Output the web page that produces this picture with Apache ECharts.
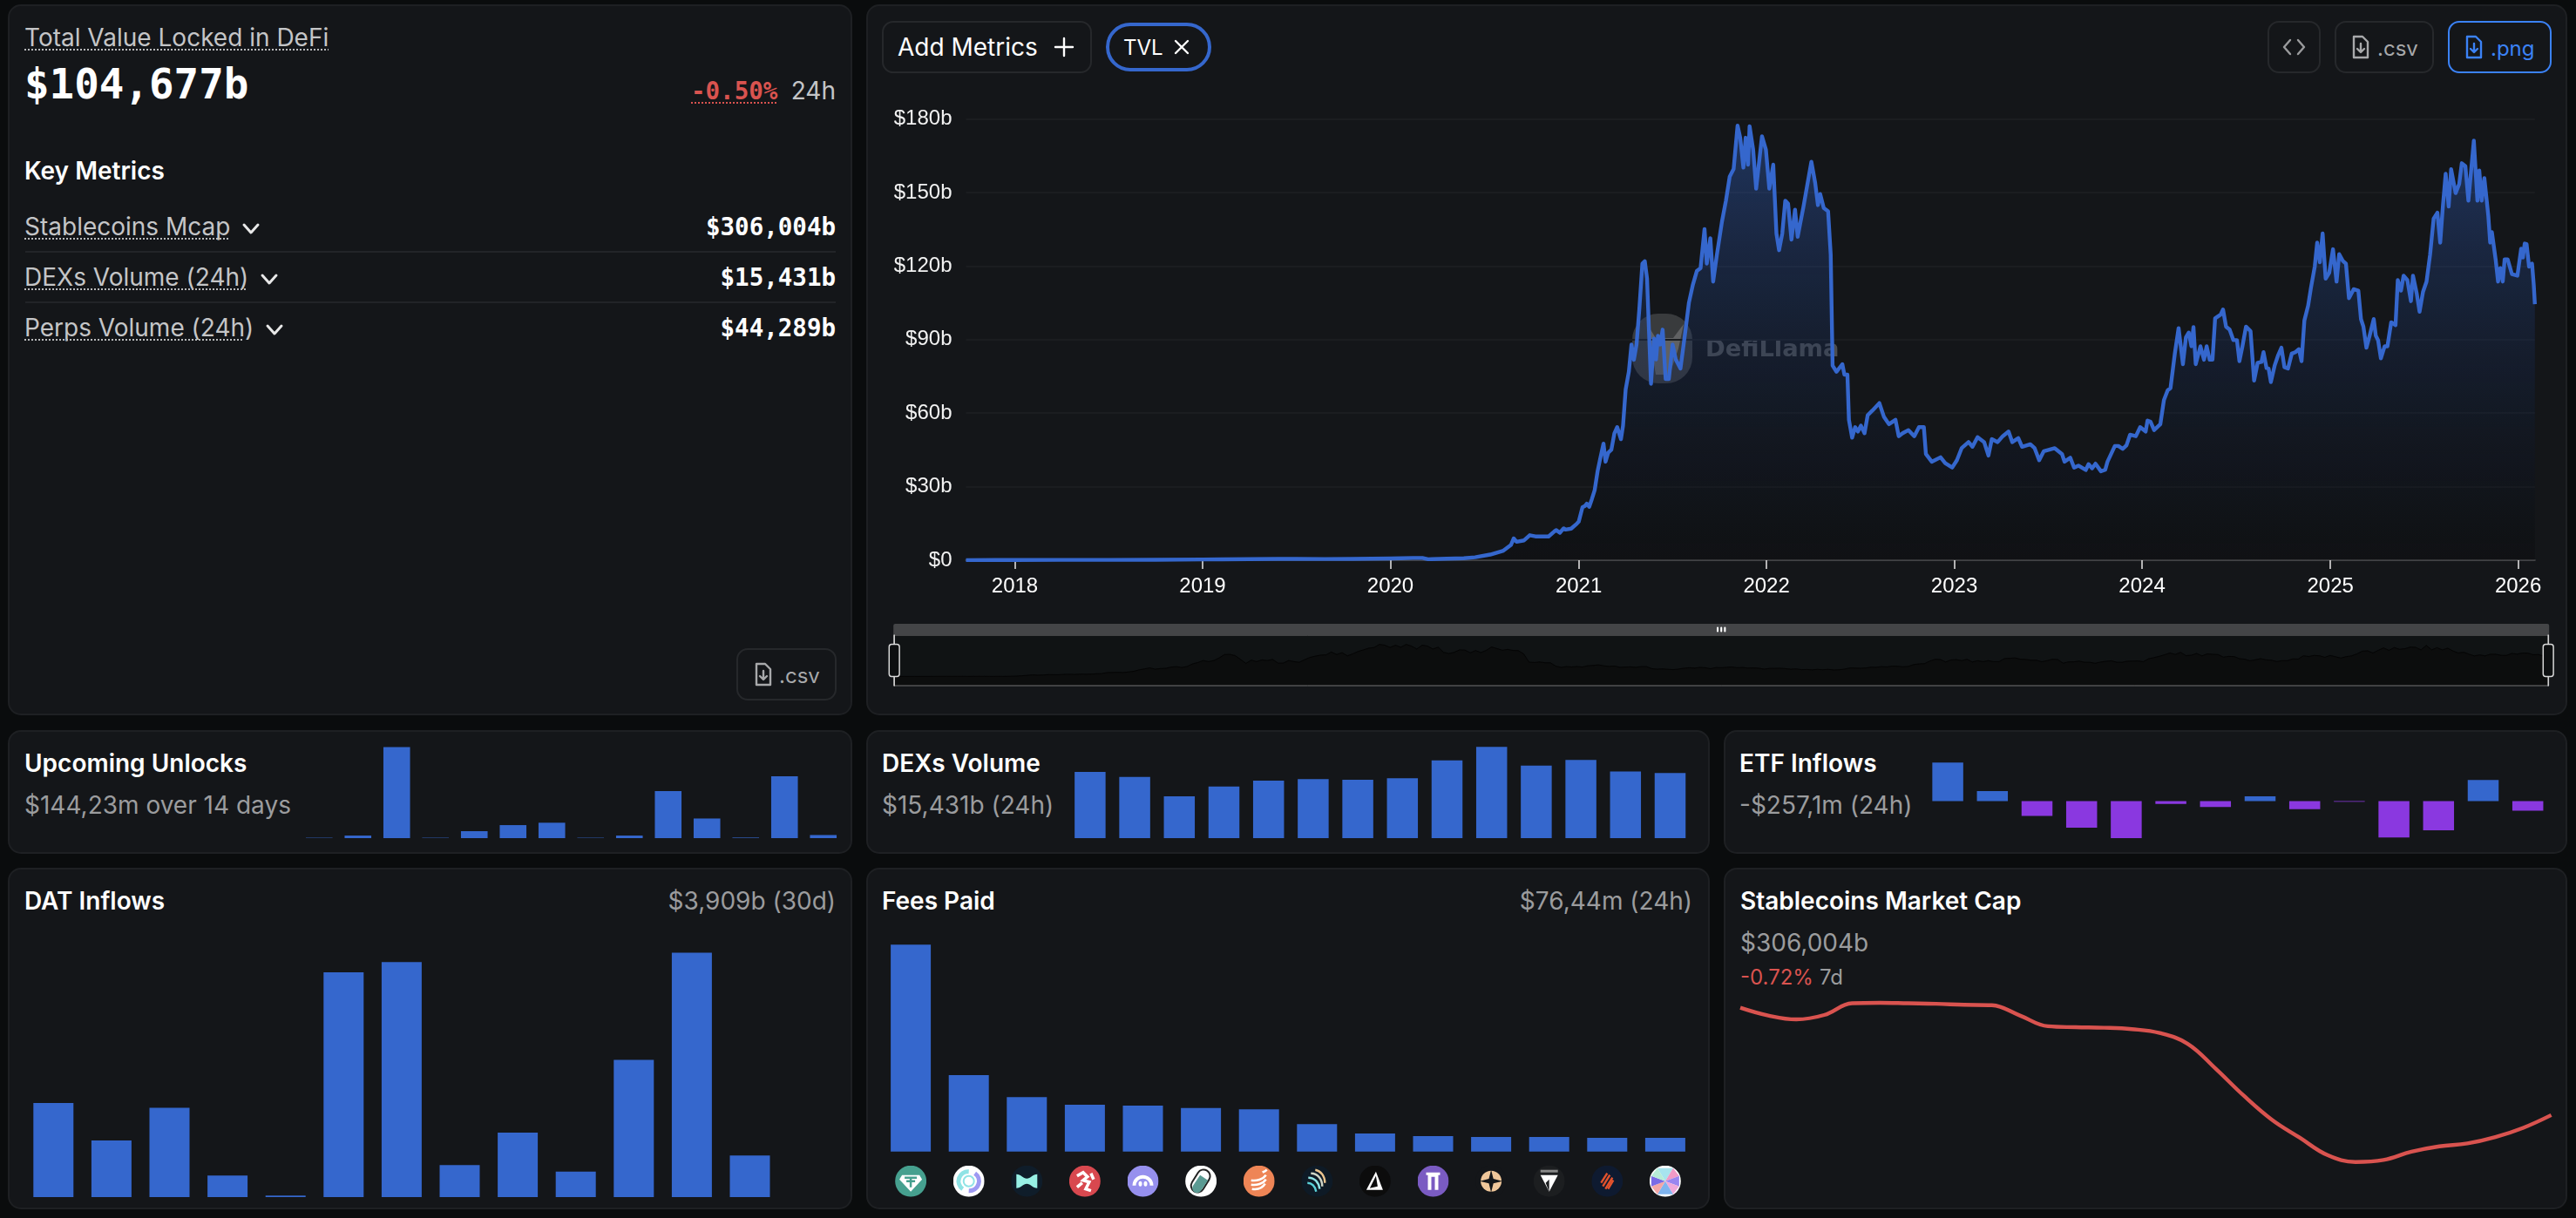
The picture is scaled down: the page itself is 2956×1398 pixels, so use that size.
<!DOCTYPE html>
<html><head><meta charset="utf-8"><title>DeFi dashboard</title>
<script src="https://cdn.jsdelivr.net/npm/echarts@6/dist/echarts.min.js"></script>
<style>
html,body{margin:0;padding:0;background:#0a0c0d;width:2956px;height:1398px;overflow:hidden}
#chrome,#chart{position:absolute;left:0;top:0;width:2956px;height:1398px}
text{font-family:Inter,"Noto Sans",sans-serif;font-size:28px;fill:#c4c5c7}
.t{fill:#fff;font-weight:600}
.m{font-family:"DejaVu Sans Mono",monospace;font-weight:700;fill:#fff;font-size:27.5px}
.g{fill:#9b9c9e}
.r{fill:#d9534f}
.p{fill:#141619;stroke:#1e2023;stroke-width:2}
.b{fill:none;stroke:#26282b;stroke-width:2}
.ic{fill:none;stroke:#c8c9cb;stroke-width:2.4;stroke-linecap:round;stroke-linejoin:round}
.ch{fill:none;stroke:#e8e8e8;stroke-width:3;stroke-linecap:round;stroke-linejoin:round}
.sep{stroke:#222428;stroke-width:2}
.u{stroke:#b9babc;stroke-width:2;stroke-dasharray:2 2}
</style></head><body>
<svg id="chrome" xmlns="http://www.w3.org/2000/svg" viewBox="0 0 2956 1398">
<rect class="p" x="10" y="6" width="967" height="814" rx="14"/>
<rect class="p" x="995" y="6" width="1950" height="814" rx="14"/>
<rect class="p" x="10" y="839" width="967" height="140" rx="14"/>
<rect class="p" x="995" y="839" width="966" height="140" rx="14"/>
<rect class="p" x="1979" y="839" width="966" height="140" rx="14"/>
<rect class="p" x="10" y="997" width="967" height="390" rx="14"/>
<rect class="p" x="995" y="997" width="966" height="390" rx="14"/>
<rect class="p" x="1979" y="997" width="966" height="390" rx="14"/>

<text x="28" y="53">Total Value Locked in DeFi</text><line class="u" x1="28" x2="377" y1="57" y2="57"/>
<text class="m" x="28" y="113" style="font-size:47.5px">$104,677b</text>
<text class="m" x="793" y="114" style="fill:#d9534f">-0.50%</text><line class="u" x1="793" x2="891" y1="118" y2="118" style="stroke:#d9534f"/>
<text x="959" y="114" text-anchor="end" style="fill:#c4c5c7">24h</text>
<text class="t" x="28" y="206">Key Metrics</text>
<text x="28" y="270">Stablecoins Mcap</text><line class="u" x1="28" x2="264" y1="274" y2="274"/>
<path class="ch" d="M280 258l8 9 8-9"/>
<text class="m" x="959" y="270" text-anchor="end">$306,004b</text>
<line class="sep" x1="29" x2="959" y1="289" y2="289"/>
<text x="28" y="328">DEXs Volume (24h)</text><line class="u" x1="28" x2="283" y1="332" y2="332"/>
<path class="ch" d="M301 316l8 9 8-9"/>
<text class="m" x="959" y="328" text-anchor="end">$15,431b</text>
<line class="sep" x1="29" x2="959" y1="347" y2="347"/>
<text x="28" y="386">Perps Volume (24h)</text><line class="u" x1="28" x2="279" y1="390" y2="390"/>
<path class="ch" d="M307 374l8 9 8-9"/>
<text class="m" x="959" y="386" text-anchor="end">$44,289b</text>

<rect class="b" x="846" y="745" width="113" height="58" rx="12"/>
<g transform="translate(866,762)"><path class="ic" style="stroke:#a8a9ab" d="M2 0h10l6 6v18H2zM10 8v9M6 14l4 4 4-4"/></g>
<text x="894" y="784" style="font-size:24px;fill:#a8a9ab">.csv</text>

<rect class="b" x="1013" y="25" width="239" height="58" rx="12"/>
<text x="1030" y="64" style="fill:#fff">Add Metrics</text>
<path class="ic" d="M1211 54h20M1221 44v20" style="stroke:#fff"/>
<rect x="1271" y="28" width="117" height="52" rx="26" fill="none" stroke="#3567cd" stroke-width="4"/>
<text x="1289" y="63" style="fill:#fff;font-size:24px">TVL</text>
<path class="ic" d="M1349 47l14 14M1363 47l-14 14" style="stroke:#fff"/>

<rect class="b" x="2603" y="25" width="59" height="58" rx="12"/>
<path class="ic" style="stroke:#9a9b9d" d="M2628 46l-7 8 7 8M2637 46l7 8-7 8"/>
<rect class="b" x="2680" y="25" width="112" height="58" rx="12"/>
<g transform="translate(2699,42)"><path class="ic" style="stroke:#a8a9ab" d="M2 0h10l6 6v18H2zM10 8v9M6 14l4 4 4-4"/></g>
<text x="2728" y="64" style="font-size:24px;fill:#a8a9ab">.csv</text>
<rect x="2810" y="25" width="117" height="58" rx="12" fill="none" stroke="#3b82f6" stroke-width="2"/>
<g transform="translate(2829,42)"><path class="ic" style="stroke:#3b82f6" d="M2 0h10l6 6v18H2zM10 8v9M6 14l4 4 4-4"/></g>
<text x="2858" y="64" style="font-size:24px;fill:#3b82f6">.png</text>

<text class="t" x="28" y="886">Upcoming Unlocks</text>
<text class="g" x="28" y="934">$144,23m over 14 days</text>
<text class="t" x="1012" y="886">DEXs Volume</text>
<text class="g" x="1012" y="934">$15,431b (24h)</text>
<text class="t" x="1996" y="886">ETF Inflows</text>
<text class="g" x="1996" y="934">-$257,1m (24h)</text>
<text class="t" x="28" y="1044">DAT Inflows</text>
<text class="g" x="959" y="1044" text-anchor="end">$3,909b (30d)</text>
<text class="t" x="1012" y="1044">Fees Paid</text>
<text class="g" x="1942" y="1044" text-anchor="end">$76,44m (24h)</text>
<text class="t" x="1997" y="1044">Stablecoins Market Cap</text>
<text class="g" x="1997" y="1092">$306,004b</text>
<text class="r" x="1997" y="1130" style="font-size:24px">-0.72%</text>
<text x="2088" y="1130" style="font-size:24px" class="g">7d</text>
</svg>
<div id="chart"></div>
<script>
// TVL in $b, as [decimal year, value]
const tvlBefore2021 = [[2017.74,0.05],[2017.9,0.08],[2018,0.1],[2018.25,0.12],[2018.5,0.15],[2018.75,0.2],[2019,0.3],[2019.1,0.35],[2019.25,0.45],[2019.4,0.55],[2019.5,0.55],[2019.65,0.5],[2019.8,0.55],[2019.9,0.6],[2020,0.7],[2020.06,0.8],[2020.12,0.95],[2020.17,0.95],[2020.2,0.4],[2020.22,0.45],[2020.3,0.6],[2020.39,0.8],[2020.45,1.2],[2020.53,2.3],[2020.6,3.9],[2020.64,6.2],[2020.655,8.9],[2020.67,7.5],[2020.71,8.1],[2020.74,10.2],[2020.77,9.7],[2020.84,9.7],[2020.87,11.7],[2020.88,12.3],[2020.9,11.2],[2020.92,13],[2020.93,12.5],[2020.96,12.9],[2020.99,14.9]];
const tvl2021 = [[2021,15.7],[2021.02,21.6],[2021.033,22.1],[2021.043,23.1],[2021.056,21.8],[2021.07,24.9],[2021.085,28.6],[2021.101,36.5],[2021.116,42],[2021.132,47.6],[2021.143,40.2],[2021.157,43.9],[2021.174,45.1],[2021.19,51.8],[2021.205,54.3],[2021.225,49.4],[2021.236,54.9],[2021.25,69.6],[2021.267,76.9],[2021.281,88],[2021.294,81.8],[2021.308,88],[2021.323,102.6],[2021.339,121],[2021.352,122],[2021.364,114.9],[2021.374,94.1],[2021.385,72],[2021.401,90.4],[2021.412,81.9],[2021.422,91.6],[2021.434,88],[2021.447,94.1],[2021.463,73.9],[2021.48,73.9],[2021.5,88],[2021.517,81.9],[2021.542,78.2],[2021.567,92.9],[2021.587,105.1],[2021.608,112.4],[2021.629,118],[2021.649,119.2],[2021.67,135.1],[2021.682,121],[2021.701,131.4],[2021.716,113.7],[2021.736,124.7],[2021.763,138.2],[2021.784,146.7],[2021.804,156.5],[2021.825,159.6],[2021.846,177.3],[2021.86,172.4],[2021.877,160.2],[2021.889,172.4],[2021.902,161.4],[2021.91,177.1],[2021.929,167.5],[2021.945,151.6],[2021.976,173],[2021.997,167.5]];
const tvl2022 = [[2022.015,151.6],[2022.036,161.4],[2022.053,133.3],[2022.067,126.5],[2022.084,133.3],[2022.1,146.7],[2022.115,145.5],[2022.133,130.8],[2022.152,143],[2022.166,132],[2022.197,144.3],[2022.239,162.6],[2022.259,154.1],[2022.274,144.9],[2022.286,149.4],[2022.305,143.7],[2022.328,142.4],[2022.342,124.7],[2022.352,79.4],[2022.373,76.9],[2022.404,80],[2022.415,75.7],[2022.431,75.7],[2022.439,57.3],[2022.456,50],[2022.472,54.3],[2022.487,52.5],[2022.503,54.9],[2022.522,51.8],[2022.539,59.2],[2022.563,61],[2022.601,64.1],[2022.625,58.6],[2022.652,55.5],[2022.687,57.3],[2022.704,50.6],[2022.725,51.8],[2022.756,53.1],[2022.787,50.6],[2022.812,54.3],[2022.838,54.3],[2022.849,43.3],[2022.88,40.2],[2022.927,42],[2022.952,39.6],[2022.989,37.8]];
const tvl2023 = [[2023.014,40.8],[2023.039,45.7],[2023.076,48.2],[2023.097,46.3],[2023.124,50.2],[2023.159,48.2],[2023.182,42.7],[2023.2,49.4],[2023.231,48.2],[2023.258,50.6],[2023.289,52.5],[2023.309,48.2],[2023.341,49.8],[2023.361,46.3],[2023.405,47.3],[2023.428,45.7],[2023.452,40.8],[2023.477,44.5],[2023.506,45.1],[2023.535,45.7],[2023.574,43.3],[2023.587,40.2],[2023.618,41.8],[2023.638,37.8],[2023.661,38.6],[2023.7,36.8],[2023.715,39.2],[2023.734,37.5],[2023.752,39.4],[2023.781,36.3],[2023.804,36.9],[2023.816,40.2],[2023.855,46.6],[2023.874,46.6],[2023.897,45.4],[2023.917,46.9],[2023.936,51.2],[2023.967,50.6],[2023.99,54.3]];
const tvl2024 = [[2024.019,52.5],[2024.029,57],[2024.045,56.5],[2024.064,53.1],[2024.097,55.5],[2024.116,65.3],[2024.136,69.3],[2024.151,70.2],[2024.174,84.3],[2024.194,94.7],[2024.203,94],[2024.217,80],[2024.233,91],[2024.248,92.9],[2024.262,87.3],[2024.273,95.1],[2024.285,80],[2024.31,87.3],[2024.329,81.8],[2024.343,87.3],[2024.359,81.8],[2024.374,81.8],[2024.388,98.7],[2024.417,100.2],[2024.43,102.3],[2024.446,95.3],[2024.465,94.1],[2024.485,89.8],[2024.504,89.8],[2024.517,81.2],[2024.533,87.3],[2024.552,95.3],[2024.576,93.5],[2024.595,73.3],[2024.614,80.6],[2024.634,80.9],[2024.645,84.9],[2024.661,78.4],[2024.672,78.2],[2024.684,72.7],[2024.704,79.4],[2024.723,83.7],[2024.74,86.7],[2024.756,78.8],[2024.775,78.2],[2024.795,84.3],[2024.814,84.9],[2024.833,86.1],[2024.847,81.2],[2024.862,97.8],[2024.882,103.9],[2024.897,111.2],[2024.917,119.8],[2024.93,129.6],[2024.944,121.6],[2024.959,133.3],[2024.975,114.9],[2024.994,117.3]];
const tvl2025 = [[2025.014,126.9],[2025.033,113.7],[2025.047,124.9],[2025.066,122.2],[2025.083,121],[2025.099,106.9],[2025.124,110.6],[2025.149,110],[2025.163,98.4],[2025.176,95.3],[2025.192,86.7],[2025.211,92.2],[2025.231,98.4],[2025.242,91.6],[2025.254,89.8],[2025.269,82.4],[2025.289,87.3],[2025.304,87.3],[2025.324,97.1],[2025.347,95.9],[2025.359,114.3],[2025.376,110],[2025.39,116.1],[2025.41,114.3],[2025.429,105.7],[2025.44,116.1],[2025.46,108.8],[2025.475,101.4],[2025.493,109.4],[2025.512,113.7],[2025.531,124.7],[2025.55,139.4],[2025.57,141.8],[2025.585,129.6],[2025.599,144.3],[2025.614,157.7],[2025.63,144.3],[2025.643,159.6],[2025.667,149.8],[2025.686,153.5],[2025.7,162],[2025.719,160.8],[2025.735,146.7],[2025.764,171.2],[2025.783,146.7],[2025.793,159],[2025.806,146.7],[2025.82,155.9],[2025.841,140.6],[2025.851,129.6],[2025.86,133.9],[2025.88,122.8],[2025.893,113.7],[2025.905,119.2],[2025.918,113.7],[2025.928,122.8],[2025.944,122.8],[2025.967,116.7],[2025.996,116.1]];
const tvl2026 = [[2026.016,127.1],[2026.025,123.5],[2026.035,129.2],[2026.045,129],[2026.058,119.8],[2026.074,121],[2026.083,112.4],[2026.089,104.5]];
const yearTicks = [2018,2019,2020,2021,2022,2023,2024,2025,2026];
const yTickStep = 30, yMax = 180;

const unlocks = [0.2,1.4,49.6,0.2,3.8,7.1,8.4,0.2,1.4,25.6,10.7,0.3,33.7,1.7];
const dexVolume = [15.7,14.5,9.9,12.2,13.6,14.0,13.8,14.2,18.4,21.6,17.2,18.5,15.8,15.4];
const etfInflows = [1028,265,-397,-709,-989,-78,-156,125,-218,-16,-974,-779,561,-257];
const datInflows = [305,184,290,70,5,729,762,104,209,83,445,793,135,0];
const feeNames = ['Tether','Circle','Hyperliquid','Lion','Arch','Pill','Stack','Waves','Delta','Gate','Star','Fragment','Stripes','Pinwheel'];
const feesPaid = [24.98,9.23,6.56,5.65,5.54,5.26,5.09,3.30,2.17,1.86,1.75,1.75,1.65,1.65];
const stablecoins = [308.20,308.04,307.96,308.05,308.29,308.30,308.29,308.28,308.26,308.25,308.04,307.82,307.80,307.79,307.76,307.68,307.46,306.95,306.40,305.91,305.54,305.18,305.04,305.08,305.25,305.36,305.42,305.55,305.74,306.00];

const BLUE='#3567cd', PURPLE='#8a38e0', RED='#d9534f';
const toMs = y => { const f=Math.floor(y), a=Date.UTC(f,0,1), b=Date.UTC(f+1,0,1); return a+(y-f)*(b-a); };
const tvl = [...tvlBefore2021,...tvl2021,...tvl2022,...tvl2023,...tvl2024,...tvl2025,...tvl2026].map(p=>[toMs(p[0]),p[1]]);
const idx = a => a.map((_,i)=>i);

const svgIcons = [
 '<circle cx="18" cy="18" r="18" fill="#46a08f"/><path d="M8 11h20l3 5-13 14L5 16z" fill="#fff"/><path d="M11 14h14M18 14v11M13 18h10" stroke="#46a08f" stroke-width="2.5" fill="none"/>',
 '<circle cx="18" cy="18" r="18" fill="#fff"/><path d="M11 27a11 11 0 0 1 7-20" stroke="#8fe3e5" stroke-width="5" fill="none"/><path d="M25 9a11 11 0 0 1-7 20" stroke="#9d99f2" stroke-width="5" fill="none"/><circle cx="18" cy="18" r="6" fill="none" stroke="#8fe3e5" stroke-width="2"/>',
 '<circle cx="18" cy="18" r="18" fill="#0f1d2a"/><path d="M6 10c5 0 8 5 12 5s7-5 12-5v16c-5 0-8-5-12-5s-7 5-12 5z" fill="#97f0e5"/>',
 '<circle cx="18" cy="18" r="18" fill="#d8484f"/><path d="M9 12l7-4 5 5-5 4 7 2-4 8 6 2M15 20l-6 5M25 9l3 7" stroke="#fff" stroke-width="3.5" fill="none"/>',
 '<circle cx="18" cy="18" r="18" fill="#9690ee"/><path d="M6 23a12 12 0 0 1 24 0h-4a8 8 0 0 0-16 0z" fill="#fff"/><ellipse cx="15" cy="21" rx="2" ry="3" fill="#fff"/><ellipse cx="21" cy="21" rx="2" ry="3" fill="#fff"/>',
 '<circle cx="18" cy="18" r="18" fill="#fff"/><rect x="10" y="4" width="15" height="28" rx="7.5" transform="rotate(32 18 18)" fill="#fff" stroke="#222" stroke-width="2"/><path d="M9 23l8-12 9 6-8 12a5 5 0 0 1-9-6z" fill="#5a9a92"/>',
 '<circle cx="18" cy="18" r="18" fill="#ee8556"/><path d="M9 17c6 1 14-1 17-6M9 22c6 1 14-1 17-6M10 27c6 1 12-1 15-6M22 8c2-1 3-1 5-3" stroke="#fff" stroke-width="2.6" fill="none"/>',
 '<circle cx="18" cy="18" r="18" fill="#0e1a26"/><path d="M16 5c6 1 11 7 11 15" stroke="#eac48f" stroke-width="2.4" fill="none"/><path d="M11 9c8 0 13 7 13 15" stroke="#cfd6c8" stroke-width="2.4" fill="none"/><path d="M8 14c7 0 12 5 13 13" stroke="#8fe3e5" stroke-width="2.4" fill="none"/><path d="M7 20c5 0 9 4 10 10" stroke="#5ad0d8" stroke-width="2.4" fill="none"/>',
 '<circle cx="18" cy="18" r="18" fill="#0c0c0c"/><path d="M19 7l8 21H8z" fill="#fff"/><path d="M19 12l2 12-9 2z" fill="#0c0c0c"/>',
 '<circle cx="18" cy="18" r="18" fill="#7a5bc2"/><path d="M10 8h16v3h-2v17h-4V13h-4v15h-4V11h-2z" fill="#fff"/>',
 '<circle cx="18" cy="18" r="18" fill="#141619"/><circle cx="18" cy="18" r="12" fill="#f0c79a"/><path d="M18 5l2.6 10.4L31 18l-10.4 2.6L18 31l-2.6-10.4L5 18l10.4-2.6z" fill="#141619"/>',
 '<circle cx="18" cy="18" r="18" fill="#1c1e20"/><rect x="8" y="5" width="20" height="3" fill="#888"/><path d="M8 11h20l-10 19z" fill="#fff"/><path d="M18 16v14l-4-10z" fill="#1c1e20"/>',
 '<circle cx="18" cy="18" r="18" fill="#0e1a30"/><path d="M13 24l8-13M16 27l8-13M11 20l7-11M19 27l6-10" stroke="#e2522c" stroke-width="2.4" fill="none"/>',
 '<circle cx="18" cy="18" r="18" fill="#fff"/><path d="M18 18L9 3h18z" fill="#a7e4ef"/><path d="M18 18L27 3l7 9z" fill="#f29ac6"/><path d="M18 18l16-6v12z" fill="#9a86f0"/><path d="M18 18l16 6-7 9z" fill="#f0a9d9"/><path d="M18 18l9 15H9z" fill="#7fb4ef"/><path d="M18 18L9 33l-7-9z" fill="#f4a6a6"/><path d="M18 18L2 24V12z" fill="#7a6be6"/><path d="M18 18L2 12l7-9z" fill="#b7ecd7"/>'
];
const iconRich = {};
svgIcons.forEach((s,i)=>{
  iconRich['i'+i] = {width:36,height:36,backgroundColor:{image:'data:image/svg+xml;charset=utf-8,'+encodeURIComponent('<svg xmlns="http://www.w3.org/2000/svg" width="72" height="72" viewBox="0 0 36 36">'+s+'</svg>')}};
});

function barGrid(l,t,w,h){return {left:l,top:t,width:w,height:h};}
const grids=[
  {left:1108.5,top:136.7,width:1800.3,height:506.3},
  barGrid(344,857.5,623,104.5),
  barGrid(1225.3,857.3,716.8,104.7),
  barGrid(2209.5,875.3,716.8,86.7),
  barGrid(28,1093.4,932.4,280.6),
  barGrid(1011.8,1084.3,932.4,237.4),
  {left:1997,top:1151,width:930.6,height:182.7}
];
function hiddenX(i,data,extra){return Object.assign({type:'category',gridIndex:i,data:data,show:false},extra||{});}
function hiddenY(i,min,max){return {type:'value',gridIndex:i,min:min,max:max,show:false};}
function bars(i,data,width,color){return {type:'bar',xAxisIndex:i,yAxisIndex:i,data:data,barWidth:width,
  itemStyle:{color:color||BLUE},silent:true,animation:false};}

const option={
  useUTC:true,animation:false,backgroundColor:'transparent',
  grid:grids,
  graphic:[
    {type:'rect',z:0,silent:true,shape:{x:1873,y:360,width:69,height:80,r:30},style:{fill:'rgba(255,255,255,0.16)'}},
    {type:'polygon',z:0,silent:true,shape:{points:[[1890,372],[1900,388],[1920,388],[1932,372],[1926,400],[1916,430],[1900,430],[1895,400]]},style:{fill:'rgba(255,255,255,0.2)'}},
    {type:'text',z:0,silent:true,x:1957,y:402,style:{text:'DefiLlama',fill:'rgba(255,255,255,0.24)',font:'bold 27.3px "DejaVu Sans", sans-serif',textVerticalAlign:'middle'}}
  ],
  xAxis:[
    {type:'value',gridIndex:0,min:tvl[0][0],max:tvl[tvl.length-1][0],
     axisLine:{show:true,onZero:false,lineStyle:{color:'#414245',width:2}},
     axisTick:{show:true,length:10,lineStyle:{color:'#e8e8e8',width:1.5},customValues:yearTicks.map(y=>Date.UTC(y,0,1))},
     axisLabel:{color:'#fff',fontSize:24,fontFamily:'"Liberation Sans",Arial,sans-serif',margin:18,
       customValues:yearTicks.map(y=>Date.UTC(y,0,1)),formatter:v=>String(new Date(v).getUTCFullYear())},
     splitLine:{show:false}},
    hiddenX(1,idx(unlocks)),hiddenX(2,idx(dexVolume)),hiddenX(3,idx(etfInflows)),hiddenX(4,idx(datInflows)),
    {type:'category',gridIndex:5,data:feeNames,axisLine:{show:false},axisTick:{show:false},
     axisLabel:{interval:0,margin:16,rich:iconRich,formatter:(v,i)=>'{i'+i+'|}'}},
    {type:'category',gridIndex:6,data:idx(stablecoins),boundaryGap:false,show:false}
  ],
  yAxis:[
    {type:'value',gridIndex:0,min:0,max:yMax,interval:yTickStep,
     axisLine:{show:false},axisTick:{show:false},
     axisLabel:{color:'#f2f2f2',fontSize:24,fontFamily:'"Liberation Sans",Arial,sans-serif',margin:16,padding:[3,0,0,0],formatter:v=>v===0?'$0':'$'+v+'b'},
     splitLine:{lineStyle:{color:'#1b1d20',width:2}}},
    hiddenY(1,0,49.6),hiddenY(2,0,21.6),hiddenY(3,-989,1028),hiddenY(4,0,793),hiddenY(5,0,24.98),hiddenY(6,305.04,308.30)
  ],
  dataZoom:[{type:'slider',xAxisIndex:0,left:1020,width:1900,top:716,height:59,start:0,end:100,filterMode:'none',
    showDetail:false,brushSelect:true,realtime:false,
    backgroundColor:'#101314',borderColor:'#777',borderRadius:0,fillerColor:'rgba(0,0,0,0)',
    dataBackground:{lineStyle:{color:'#050505',width:1,opacity:1},areaStyle:{color:'#0c0d0d',opacity:1}},
    selectedDataBackground:{lineStyle:{color:'#050505',width:1,opacity:1},areaStyle:{color:'#0c0d0d',opacity:1}},
    handleStyle:{color:'#0d0f10',borderColor:'#d8d8d8',borderWidth:1.5},
    moveHandleSize:13,moveHandleStyle:{color:'#444547',opacity:1},
    emphasis:{handleStyle:{borderColor:'#d8d8d8'},moveHandleStyle:{color:'#444547'}}}],
  series:[
    {type:'line',name:'TVL',xAxisIndex:0,yAxisIndex:0,data:tvl,showSymbol:false,sampling:false,z:3,animation:false,silent:true,
     lineStyle:{color:BLUE,width:4.4,join:'round'},itemStyle:{color:BLUE},
     areaStyle:{color:new echarts.graphic.LinearGradient(0,0,0,1,[{offset:0,color:'rgba(53,103,205,0.55)'},{offset:1,color:'rgba(0,0,0,0.28)'}])}},
    bars(1,unlocks,30.6),
    bars(2,dexVolume,35.5),
    Object.assign(bars(3,etfInflows,35.5),{itemStyle:{color:p=>p.value<0?PURPLE:BLUE}}),
    bars(4,datInflows,46),
    bars(5,feesPaid,46),
    {type:'line',xAxisIndex:6,yAxisIndex:6,data:stablecoins,smooth:0.4,showSymbol:false,clip:false,silent:true,animation:false,
     lineStyle:{color:RED,width:4.4}}
  ]
};
const chart=echarts.init(document.getElementById('chart'),null,{width:2956,height:1398,renderer:'canvas'});
chart.setOption(option);
</script>
</body></html>
